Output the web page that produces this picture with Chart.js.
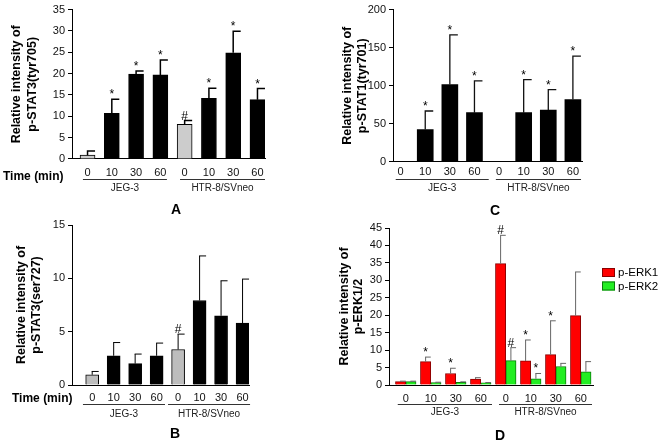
<!DOCTYPE html>
<html>
<head>
<meta charset="utf-8">
<title>STAT / ERK phosphorylation</title>
<script src="https://cdn.jsdelivr.net/npm/chart.js@4.4.1/dist/chart.umd.min.js"></script>
<style>
  html, body { margin: 0; padding: 0; background: #fff; }
  #wrap { position: relative; width: 661px; height: 444px; }
  #wrap canvas { position: absolute; left: 0; top: 0; }
</style>
</head>
<body>
<div id="wrap">
  <canvas id="chartA" width="661" height="444"></canvas>
  <canvas id="chartC" width="661" height="444"></canvas>
  <canvas id="chartB" width="661" height="444"></canvas>
  <canvas id="chartD" width="661" height="444"></canvas>
</div>
<script>
// ---------------- data ----------------
const TIME_LABELS = ["0", "10", "30", "60", "0", "10", "30", "60"];
const CELL_GROUPS = ["JEG-3", "HTR-8/SVneo"];
const GROUP_RANGE = [[0, 3], [4, 7]]; // category index span of each cell line

// A - p-STAT3(tyr705); *_UPPER = top of the error bar (mean + SD)
const A_MEAN  = [0.9, 10.7, 19.9, 19.7, 8.1, 14.2, 24.9, 13.9];
const A_UPPER = [1.85, 14.0, 20.6, 23.2, 9.0, 16.6, 29.9, 16.5];
const A_MARK  = ["", "*", "*", "*", "#", "*", "*", "*"];

// B - p-STAT3(ser727)
const B_MEAN  = [0.96, 2.74, 2.0, 2.74, 3.33, 7.92, 6.49, 5.8];
const B_UPPER = [1.27, 3.98, 2.9, 3.93, 4.77, 12.1, 9.77, 9.93];
const B_MARK  = ["", "", "", "", "#", "", "", ""];

// C - p-STAT1(tyr701)
const C_MEAN  = [0, 42.6, 101.6, 64.7, 0, 64.7, 68.2, 82];
const C_UPPER = [null, 66.9, 166.7, 106.4, null, 108, 95, 139];
const C_MARK  = ["", "*", "*", "*", "", "*", "*", "*"];

// D - p-ERK1 / p-ERK2
const ERK1_MEAN  = [0.95, 6.7, 3.3, 1.7, 34.8, 6.9, 8.7, 19.9];
const ERK1_UPPER = [1.1, 8.0, 4.8, 2.1, 42.9, 12.9, 18.4, 32.4];
const ERK1_MARK  = ["", "*", "*", "", "#", "*", "*", ""];
const ERK2_MEAN  = [0.95, 0.7, 0.8, 0.6, 7.0, 1.8, 5.3, 3.8];
const ERK2_UPPER = [1.1, 0.8, 0.9, 0.7, 10.7, 3.3, 6.2, 6.7];
const ERK2_MARK  = ["", "", "", "", "#", "*", "", ""];

// ---------------- look ----------------
const FONT = "Arial, 'Liberation Sans', sans-serif";
Chart.defaults.font.family = FONT;
const PAGE_W = 661, PAGE_H = 444;
const X_AXIS_H = 20;
const GRAY_A = "#cccccc";
const GRAY_B = "#bdbdbd";

const points = (arr) => arr.map((v, i) => ({ x: i, y: v }));
const controlColors = (gray) => TIME_LABELS.map((_, i) => (i === 0 || i === 4 ? gray : "#000"));

// panel geometry (page pixels) + per-panel styling
const PANELS = [
  {
    id: "chartA", letter: "A", letterXY: [176, 210],
    boxLeft: 0, area: { left: 72, right: 265, top: 8, bottom: 159 },
    xMin: -0.64, xMax: 7.31, yMax: 35, yStep: 5, tickPad: 7,
    yTitle: ["Relative intensity of", "p-STAT3(tyr705)"], titlePad: 9, titleLH: 16,
    lineOff: 20, labelOff: 29, groupPads: [[-0.19, 0.27], [-0.19, 0.31]],
    timeXY: [3, 177], errColor: "#000", errWidth: 1.5,
    datasets: [{
      label: "p-STAT3(tyr705)", data: points(A_MEAN), upper: A_UPPER, marks: A_MARK,
      backgroundColor: controlColors(GRAY_A), borderColor: "#000", borderWidth: 1, barThickness: 15,
    }],
  },
  {
    id: "chartC", letter: "C", letterXY: [495, 211],
    boxLeft: 330, area: { left: 393, right: 582, top: 8, bottom: 162 },
    xMin: -0.31, xMax: 7.37, yMax: 200, yStep: 50, tickPad: 3,
    yTitle: ["Relative intensity of", "p-STAT1(tyr701)"], titlePad: 10.5, titleLH: 15,
    lineOff: 16.5, labelOff: 26.5, groupPads: [[-0.2, 0.58], [-0.13, 0.33]],
    timeXY: null, errColor: "#111", errWidth: 1.3,
    datasets: [{
      label: "p-STAT1(tyr701)", data: points(C_MEAN), upper: C_UPPER, marks: C_MARK,
      backgroundColor: "#000", borderColor: "#000", borderWidth: 0, barThickness: 16,
    }],
  },
  {
    id: "chartB", letter: "B", letterXY: [175, 434],
    boxLeft: 0, area: { left: 72, right: 249, top: 225, bottom: 385 },
    xMin: -0.94, xMax: 7.3, yMax: 15, yStep: 5, tickPad: 6,
    yTitle: ["Relative intensity of", "p-STAT3(ser727)"], titlePad: 14, titleLH: 15,
    lineOff: 19, labelOff: 29, groupPads: [[-0.43, 0.39], [-0.47, 0.35]],
    timeXY: [12, 399], errColor: "#000", errWidth: 1,
    datasets: [{
      label: "p-STAT3(ser727)", data: points(B_MEAN), upper: B_UPPER, marks: B_MARK,
      backgroundColor: controlColors(GRAY_B), borderColor: "#000", borderWidth: 1, barThickness: 13,
    }],
  },
  {
    id: "chartD", letter: "D", letterXY: [500, 436],
    boxLeft: 330, area: { left: 389, right: 593, top: 228, bottom: 385 },
    xMin: -0.67, xMax: 7.49, yMax: 45, yStep: 5, tickPad: 7,
    yTitle: ["Relative intensity of", "p-ERK1/2"], titlePad: 7, titleLH: 14.5,
    lineOff: 19.3, labelOff: 27.5, groupPads: [[-0.32, 0.45], [-0.27, 0.45]],
    timeXY: null, errColor: "#666", errWidth: 1, legendXY: [602, 268],
    datasets: [
      {
        label: "p-ERK1", data: points(ERK1_MEAN), upper: ERK1_UPPER, marks: ERK1_MARK,
        backgroundColor: "#ff0000", borderColor: "#8a0000", borderWidth: 1, barThickness: 10.3,
      },
      {
        label: "p-ERK2", data: points(ERK2_MEAN), upper: ERK2_UPPER, marks: ERK2_MARK,
        backgroundColor: "#22ee22", borderColor: "#0a7a0a", borderWidth: 1, barThickness: 10.3,
      },
    ],
  },
];

//-------------------------------------
// error bars, significance marks, group bars, letters
//-------------------------------------
function decor(p) {
  return {
    id: "decor",
    afterDatasetsDraw(chart) {
      const { ctx } = chart;
      const y = chart.scales.y;
      chart.data.datasets.forEach((ds, di) => {
        chart.getDatasetMeta(di).data.forEach((bar, i) => {
          const up = ds.upper[i];
          if (up == null) return;
          const yTop = y.getPixelForValue(up);
          ctx.save();
          ctx.strokeStyle = p.errColor;
          ctx.lineWidth = p.errWidth;
          ctx.beginPath();
          ctx.moveTo(bar.x, bar.y);
          ctx.lineTo(bar.x, yTop);
          ctx.moveTo(bar.x - p.errWidth / 2, yTop);
          ctx.lineTo(bar.x + bar.width / 2, yTop);
          ctx.stroke();
          const m = ds.marks[i];
          if (m) {
            ctx.fillStyle = "#000";
            ctx.font = `12px ${FONT}`;
            ctx.textAlign = "center";
            ctx.textBaseline = "alphabetic";
            ctx.fillText(m, bar.x, yTop - 1);
          }
          ctx.restore();
        });
      });
    },
    afterDraw(chart) {
      const { ctx } = chart;
      const x = chart.scales.x;
      const a = p.area;
      ctx.save();
      // cell-line brackets under the time labels
      GROUP_RANGE.forEach(([from, to], g) => {
        const [pl, pr] = p.groupPads[g];
        const x0 = x.getPixelForValue(from + pl);
        const x1 = x.getPixelForValue(to + pr);
        const ly = Math.round(a.bottom + p.lineOff) + 0.5;
        ctx.strokeStyle = "#333";
        ctx.lineWidth = 1;
        ctx.beginPath();
        ctx.moveTo(x0, ly);
        ctx.lineTo(x1, ly);
        ctx.stroke();
        ctx.fillStyle = "#222";
        ctx.font = `10px ${FONT}`;
        ctx.textAlign = "center";
        ctx.textBaseline = "middle";
        ctx.fillText(CELL_GROUPS[g], (x0 + x1) / 2, a.bottom + p.labelOff);
      });
      if (p.timeXY) {
        ctx.fillStyle = "#000";
        ctx.font = `bold 12px ${FONT}`;
        ctx.textAlign = "left";
        ctx.textBaseline = "middle";
        ctx.fillText("Time (min)", p.timeXY[0], p.timeXY[1]);
      }
      ctx.fillStyle = "#000";
      ctx.font = `bold 14px ${FONT}`;
      ctx.textAlign = "center";
      ctx.textBaseline = "middle";
      ctx.fillText(p.letter, p.letterXY[0], p.letterXY[1]);
      // legend (D only)
      if (p.legendXY) {
        const [lx, ly] = p.legendXY;
        chart.data.datasets.forEach((ds, i) => {
          const by = ly + i * 13.5;
          ctx.fillStyle = ds.backgroundColor;
          ctx.fillRect(lx, by, 13, 9);
          ctx.strokeStyle = ds.borderColor;
          ctx.lineWidth = 1;
          ctx.strokeRect(lx + 0.5, by + 0.5, 12, 8);
          ctx.fillStyle = "#000";
          ctx.font = `11.5px ${FONT}`;
          ctx.textAlign = "left";
          ctx.fillText(ds.label, lx + 16, by + 5);
        });
      }
      ctx.restore();
    },
  };
}

function buildPanel(p) {
  const a = p.area;
  const yAxisW = a.left - p.boxLeft;
  return new Chart(document.getElementById(p.id), {
    type: "bar",
    data: { datasets: p.datasets },
    options: {
      responsive: false,
      animation: false,
      events: [],
      layout: {
        padding: {
          left: p.boxLeft,
          right: PAGE_W - a.right,
          top: a.top,
          bottom: PAGE_H - a.bottom - X_AXIS_H,
        },
      },
      plugins: { legend: { display: false }, tooltip: { enabled: false } },
      scales: {
        x: {
          type: "linear",
          min: p.xMin,
          max: p.xMax,
          offset: false,
          grid: { display: false, offset: false, drawTicks: false, tickLength: 0 },
          border: { color: "#000", width: 1 },
          ticks: {
            stepSize: 1,
            includeBounds: false,
            autoSkip: false,
            maxRotation: 0,
            padding: p.tickPad,
            color: "#111",
            font: { size: 11 },
            callback: (v) => TIME_LABELS[v] ?? "",
          },
          afterFit: (s) => { s.height = X_AXIS_H; },
        },
        y: {
          min: 0,
          max: p.yMax,
          grid: { drawOnChartArea: false, tickLength: 4, color: "#000" },
          border: { color: "#000", width: 1 },
          ticks: { stepSize: p.yStep, padding: 3, color: "#111", font: { size: 11 } },
          title: {
            display: true,
            text: p.yTitle,
            color: "#000",
            font: { size: 12.5, weight: "bold", lineHeight: `${p.titleLH}px` },
            padding: { top: p.titlePad, bottom: 0 },
          },
          afterFit: (s) => { s.width = yAxisW; },
        },
      },
    },
    plugins: [decor(p)],
  });
}

PANELS.forEach(buildPanel);
</script>
</body>
</html>
